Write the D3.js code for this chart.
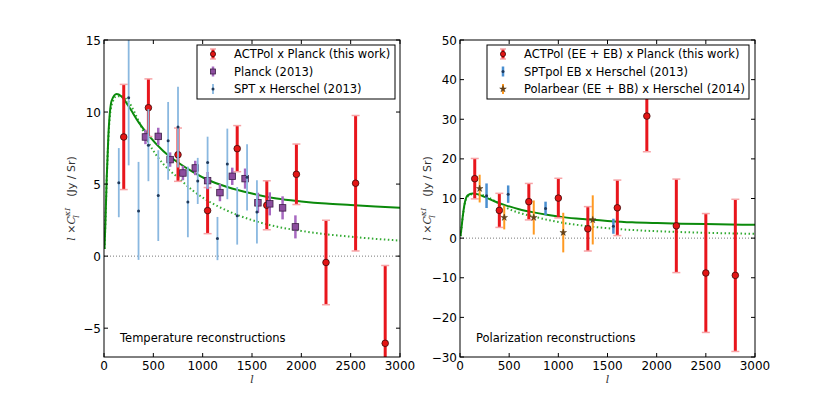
<!DOCTYPE html>
<html>
<head>
<meta charset="utf-8">
<script src="https://cdn.jsdelivr.net/npm/d3@7"></script>
<style>
  body { margin: 0; background: #fff; }
  svg { font-family: "DejaVu Sans", sans-serif; }
</style>
</head>
<body>
<div id="chart"></div>
<script>
// model curves (same shape used for both panels)
const lModel = [5, 15, 27, 44, 78, 128, 175, 250, 350, 450, 600, 750, 900, 1050, 1250, 1500, 1750, 2000, 2250, 2500, 2750, 3000];
const totalModel = [0.5, 2.5, 5.3, 8.3, 10.8, 11.25, 11.1, 10.4, 9.3, 8.4, 7.3, 6.5, 5.85, 5.3, 4.8, 4.35, 4.0, 3.8, 3.65, 3.55, 3.45, 3.35];
const clusteredModel = [0.5, 2.5, 5.2, 8.1, 10.5, 11.1, 11.1, 10.7, 9.4, 7.9, 6.4, 5.45, 4.55, 3.85, 3.15, 2.5, 2.05, 1.75, 1.52, 1.35, 1.2, 1.08];

// temperature panel
const actT_l = [200, 450, 750, 1050, 1350, 1650, 1950, 2250, 2550, 2850];
const actT_y = [8.27, 10.3, 7.04, 3.16, 7.46, 3.53, 5.68, -0.44, 5.06, -6.05];
const actT_e = [3.65, 2.0, 1.85, 1.6, 1.6, 1.7, 2.1, 2.93, 4.7, 5.4];

const planck_l = [420, 550, 670, 800, 925, 1050, 1175, 1300, 1430, 1560, 1680, 1810, 1940];
const planck_y = [8.27, 8.31, 6.7, 5.77, 6.12, 5.24, 4.41, 5.54, 5.38, 3.7, 3.63, 3.35, 2.03];
const planck_e = [0.5, 0.6, 0.5, 0.5, 0.5, 0.6, 0.6, 0.6, 0.7, 0.7, 0.8, 0.8, 0.8];

const spt_l = [150, 250, 350, 450, 550, 650, 750, 850, 950, 1050, 1150, 1250, 1350, 1450, 1550];
const spt_y = [5.1, 11.0, 3.14, 7.7, 4.2, 8.0, 8.96, 3.76, 5.22, 6.49, 1.22, 6.4, 2.8, 5.47, 3.07];
const spt_e = [2.4, 4.7, 3.4, 2.5, 3.15, 2.7, 2.8, 2.45, 1.6, 1.8, 1.5, 2.45, 2.0, 2.3, 2.2];

// polarization panel
const actP_l = [150, 400, 700, 1000, 1300, 1600, 1900, 2200, 2500, 2800];
const actP_y = [15.0, 7.0, 9.2, 10.1, 2.35, 7.65, 30.8, 3.1, -8.8, -9.4];
const actP_e = [5.1, 4.3, 4.6, 5.0, 5.6, 7.0, 9.0, 11.8, 15.0, 19.2];

const sptpol_l = [270, 490, 870, 1560];
const sptpol_y = [10.7, 11.1, 7.5, 3.0];
const sptpol_e = [3.1, 2.2, 1.7, 1.9];

const pbear_l = [200, 450, 750, 1050, 1350];
const pbear_y = [12.5, 5.2, 5.2, 1.4, 4.6];
const pbear_e = [3.5, 3.0, 4.3, 5.0, 6.2];

const xTicks = [0, 500, 1000, 1500, 2000, 2500, 3000];
const yTicksT = [-5, 0, 5, 10, 15];
const yTicksP = [-30, -20, -10, 0, 10, 20, 30, 40, 50];

const W = 839, H = 397;
const svg = d3.select("#chart").append("svg").attr("width", W).attr("height", H);

const plotTop = 40, plotBottom = 357;

const styles = {
  act:   { bar: "#e8161c", barW: 3, cap: "#f7a3a6", capW: 8, marker: "circle", fill: "#e41414", stroke: "#3a0a0a", size: 3.3 },
  planck:{ bar: "#a768c0", barW: 2.5, cap: null, marker: "square", fill: "#8c4d9e", stroke: "#3c1e45", size: 6.5 },
  spt:   { bar: "#8ab8e0", barW: 1.8, cap: null, marker: "dot", fill: "#1f3a5c", stroke: "#1f3a5c", size: 1.5 },
  sptpol:{ bar: "#4a8fd0", barW: 2.5, cap: null, marker: "dot", fill: "#1f3a5c", stroke: "#1f3a5c", size: 1.5 },
  pbear: { bar: "#ff9a22", barW: 2, cap: null, marker: "star", fill: "#6a4218", stroke: "#3a2a10", size: 3 }
};

function drawMarker(g, s, cx, cy) {
  if (s.marker === "circle") {
    g.append("circle").attr("cx", cx).attr("cy", cy).attr("r", s.size)
      .attr("fill", s.fill).attr("stroke", s.stroke).attr("stroke-width", 0.8);
  } else if (s.marker === "square") {
    g.append("rect").attr("x", cx - s.size / 2).attr("y", cy - s.size / 2)
      .attr("width", s.size).attr("height", s.size)
      .attr("fill", s.fill).attr("stroke", s.stroke).attr("stroke-width", 0.8);
  } else if (s.marker === "dot") {
    g.append("circle").attr("cx", cx).attr("cy", cy).attr("r", s.size).attr("fill", s.fill);
  } else if (s.marker === "star") {
    g.append("path").attr("transform", `translate(${cx},${cy})`)
      .attr("d", d3.symbol(d3.symbolStar, 14)())
      .attr("fill", s.fill).attr("stroke", s.stroke).attr("stroke-width", 0.4);
  }
}

function drawSeries(g, x, y, ls, ys, es, s) {
  ls.forEach((l, i) => {
    const cx = x(l);
    const y1 = y(ys[i] + es[i]), y2 = y(ys[i] - es[i]);
    g.append("line").attr("x1", cx).attr("x2", cx).attr("y1", y1).attr("y2", y2)
      .attr("stroke", s.bar).attr("stroke-width", s.barW);
    if (s.cap) {
      [y1, y2].forEach(yy => g.append("line")
        .attr("x1", cx - s.capW / 2).attr("x2", cx + s.capW / 2)
        .attr("y1", yy).attr("y2", yy)
        .attr("stroke", s.cap).attr("stroke-width", 1.5));
    }
  });
  ls.forEach((l, i) => drawMarker(g, s, x(l), y(ys[i])));
}

function panel(opts) {
  const x = d3.scaleLinear().domain([0, 3000]).range([opts.left, opts.right]);
  const y = d3.scaleLinear().domain(opts.yDomain).range([plotBottom, plotTop]);

  const clipId = "clip" + opts.id;
  svg.append("clipPath").attr("id", clipId).append("rect")
    .attr("x", opts.left).attr("y", plotTop)
    .attr("width", opts.right - opts.left).attr("height", plotBottom - plotTop);

  const g = svg.append("g").attr("clip-path", `url(#${clipId})`);

  // zero line
  g.append("line").attr("x1", opts.left).attr("x2", opts.right)
    .attr("y1", y(0)).attr("y2", y(0))
    .attr("stroke", "#555").attr("stroke-width", 0.8).attr("stroke-dasharray", "1,2");

  // models
  const line = d3.line().x((d, i) => x(lModel[i])).y(d => y(d)).curve(d3.curveMonotoneX);
  g.append("path").datum(clusteredModel).attr("d", line)
    .attr("fill", "none").attr("stroke", "#33aa33").attr("stroke-width", 2)
    .attr("stroke-dasharray", "1.5,2.5");
  g.append("path").datum(totalModel).attr("d", line)
    .attr("fill", "none").attr("stroke", "#0b8a0b").attr("stroke-width", 2);

  opts.series.forEach(sr => drawSeries(g, x, y, sr.l, sr.y, sr.e, sr.style));

  // frame
  svg.append("rect").attr("x", opts.left).attr("y", plotTop)
    .attr("width", opts.right - opts.left).attr("height", plotBottom - plotTop)
    .attr("fill", "none").attr("stroke", "#000").attr("stroke-width", 1);

  // inward ticks on all sides
  const tk = svg.append("g");
  xTicks.forEach(t => {
    tk.append("line").attr("x1", x(t)).attr("x2", x(t)).attr("y1", plotBottom).attr("y2", plotBottom - 4).attr("stroke", "#000");
    tk.append("line").attr("x1", x(t)).attr("x2", x(t)).attr("y1", plotTop).attr("y2", plotTop + 4).attr("stroke", "#000");
    tk.append("text").attr("x", x(t)).attr("y", plotBottom + 13).attr("text-anchor", "middle")
      .attr("font-size", 12).text(t);
  });
  opts.yTicks.forEach(t => {
    tk.append("line").attr("x1", opts.left).attr("x2", opts.left + 4).attr("y1", y(t)).attr("y2", y(t)).attr("stroke", "#000");
    tk.append("line").attr("x1", opts.right).attr("x2", opts.right - 4).attr("y1", y(t)).attr("y2", y(t)).attr("stroke", "#000");
    tk.append("text").attr("x", opts.left - 3).attr("y", y(t) + 4.5).attr("text-anchor", "end")
      .attr("font-size", 12).text(t < 0 ? "\u2212" + Math.abs(t) : t);
  });

  // axis labels
  svg.append("text").attr("x", (opts.left + opts.right) / 2).attr("y", plotBottom + 26)
    .attr("text-anchor", "middle").attr("font-size", 11).attr("font-style", "italic")
    .attr("font-family", "DejaVu Serif").attr("fill", "#333").text("l");

  const yl = svg.append("text")
    .attr("transform", `translate(${opts.left - 29},${(plotTop + plotBottom) / 2}) rotate(-90)`)
    .attr("text-anchor", "middle").attr("font-size", 11).attr("fill", "#333");
  yl.append("tspan").attr("font-family", "DejaVu Serif").attr("font-style", "italic").text("l");
  yl.append("tspan").text(" \u00d7");
  yl.append("tspan").attr("font-family", "DejaVu Serif").attr("font-style", "italic").text("C");
  yl.append("tspan").attr("font-size", 8).attr("font-family", "DejaVu Serif").attr("font-style", "italic")
    .attr("dy", -5).text("\u03baI");
  yl.append("tspan").attr("font-size", 8).attr("font-family", "DejaVu Serif").attr("font-style", "italic")
    .attr("dx", -10).attr("dy", 9).text("l");
  yl.append("tspan").attr("dx", 4).attr("dy", -4).text("\u2003 (Jy / Sr)");

  // annotation
  svg.append("text").attr("x", opts.left + 16).attr("y", plotBottom - 15)
    .attr("font-size", 11.5).text(opts.note);

  // legend
  const lg = svg.append("g");
  lg.append("rect").attr("x", opts.leg.x).attr("y", 45).attr("width", opts.leg.w).attr("height", 54)
    .attr("fill", "#fff").attr("stroke", "#000").attr("stroke-width", 1);
  opts.series.forEach((sr, i) => {
    const cy = 54 + i * 17.5;
    const mx = opts.leg.x + 16;
    const s = sr.style;
    lg.append("line").attr("x1", mx).attr("x2", mx).attr("y1", cy - 5).attr("y2", cy + 5)
      .attr("stroke", s.bar).attr("stroke-width", s.barW);
    if (s.cap) {
      [cy - 5, cy + 5].forEach(yy => lg.append("line").attr("x1", mx - 3).attr("x2", mx + 3)
        .attr("y1", yy).attr("y2", yy).attr("stroke", s.cap).attr("stroke-width", 1.5));
    }
    drawMarker(lg, Object.assign({}, s, { size: s.marker === "square" ? 5 : s.marker === "circle" ? 2.6 : s.size }), mx, cy);
    lg.append("text").attr("x", opts.leg.x + 37).attr("y", cy + 4).attr("font-size", 11.5).text(sr.name);
  });
}

panel({
  id: "T", left: 104, right: 400, yDomain: [-7, 15], yTicks: yTicksT,
  note: "Temperature reconstructions",
  leg: { x: 197, w: 198 },
  series: [
    { name: "ACTPol x Planck (this work)", l: actT_l, y: actT_y, e: actT_e, style: styles.act },
    { name: "Planck (2013)", l: planck_l, y: planck_y, e: planck_e, style: styles.planck },
    { name: "SPT x Herschel (2013)", l: spt_l, y: spt_y, e: spt_e, style: styles.spt }
  ]
});

panel({
  id: "P", left: 460, right: 755, yDomain: [-30, 50], yTicks: yTicksP,
  note: "Polarization reconstructions",
  leg: { x: 487, w: 262 },
  series: [
    { name: "ACTPol (EE + EB) x Planck (this work)", l: actP_l, y: actP_y, e: actP_e, style: styles.act },
    { name: "SPTpol EB x Herschel (2013)", l: sptpol_l, y: sptpol_y, e: sptpol_e, style: styles.sptpol },
    { name: "Polarbear (EE + BB) x Herschel (2014)", l: pbear_l, y: pbear_y, e: pbear_e, style: styles.pbear }
  ]
});
</script>
</body>
</html>
